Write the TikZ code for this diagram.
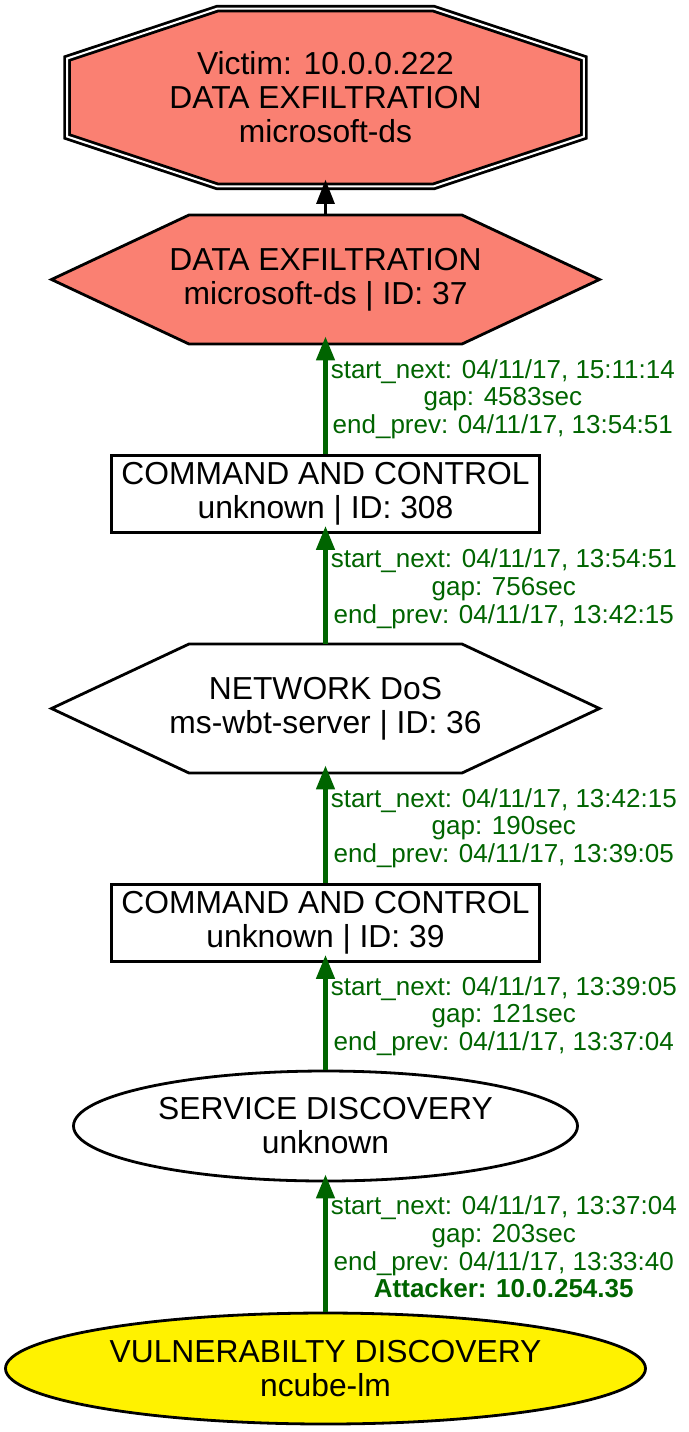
\documentclass[tikz,border=0pt]{standalone}
\usepackage{fontspec}
\setmainfont{Liberation Sans}
\usepackage{tikz}
\usetikzlibrary{shapes.geometric,arrows.meta,backgrounds}
\definecolor{salmon}{HTML}{FA8072}
\definecolor{dkgreen}{HTML}{006400}
\newcommand{\nodefont}{\fontsize{15.9pt}{17pt}\selectfont}
\newcommand{\edgefont}{\fontsize{13pt}{13.8pt}\selectfont}
\tikzstyle{target} = [rectangle, minimum width=258.4pt, minimum height=88.9pt, inner sep=0pt, align=center, font=\nodefont]
\tikzstyle{stage} = [rectangle, minimum width=274pt, minimum height=64.5pt, inner sep=0pt, align=center, font=\nodefont]
\tikzstyle{process} = [rectangle, draw, line width=1.4pt, minimum width=214pt, minimum height=38.5pt, inner sep=0pt, align=center, font=\nodefont]
\tikzstyle{oval} = [ellipse, draw, line width=1.4pt, inner sep=0pt, align=center, font=\nodefont]
\tikzstyle{outline} = [draw, line width=1.4pt, line join=miter]
\tikzstyle{connector} = [line width=1.4pt, -{Triangle[length=12pt,width=9pt]}, shorten >=-3.5pt]
\tikzstyle{flow} = [dkgreen, line width=2.3pt, -{Triangle[length=12pt,width=9pt]}, shorten >=-4pt]
\tikzstyle{timing} = [right, align=center, text=dkgreen, font=\edgefont, inner sep=1.5pt]

\begin{document}
\begin{tikzpicture}[node distance=107.25pt]
    \useasboundingbox (0,0) rectangle (344.5pt,-716pt);
    \node (victim) [target] at (162.75pt,-48.75pt) {Victim: 10.0.0.222\\DATA EXFILTRATION\\microsoft-ds};
    \node (exfil) [stage, below of = victim, yshift = 16.25pt] {DATA EXFILTRATION\\microsoft-ds | ID: 37};
    \node (cnctwo) [process, below of = exfil] {COMMAND AND CONTROL\\unknown | ID: 308};
    \node (dos) [stage, below of = cnctwo] {NETWORK DoS\\ms-wbt-server | ID: 36};
    \node (cncone) [process, below of = dos] {COMMAND AND CONTROL\\unknown | ID: 39};
    \node (svcdisc) [oval, minimum width=252pt, minimum height=55pt, below of = cncone, yshift = 5.75pt] {SERVICE DISCOVERY\\unknown};
    \node (vulndisc) [oval, fill=yellow, minimum width=320pt, minimum height=55.5pt, below of = svcdisc, yshift = -14pt] {VULNERABILTY DISCOVERY\\ncube-lm};
    % octagon and hexagons behind the text
    \begin{scope}[on background layer]
        \draw [outline, fill=salmon, double, double distance=1pt, line width=1.4pt, shift={(victim.center)}]
            (-54pt,44.45pt) -- (54pt,44.45pt) -- (129.2pt,19.5pt) -- (129.2pt,-19.5pt)
            -- (54pt,-44.45pt) -- (-54pt,-44.45pt) -- (-129.2pt,-19.5pt) -- (-129.2pt,19.5pt) -- cycle;
        \foreach \hex/\col in {exfil/salmon, dos/white}
            \draw [outline, fill=\col, shift={(\hex.center)}]
                (-68.25pt,32.25pt) -- (68.25pt,32.25pt) -- (137pt,0pt)
                -- (68.25pt,-32.25pt) -- (-68.25pt,-32.25pt) -- (-137pt,0pt) -- cycle;
    \end{scope}
    \draw [connector] (exfil) -- (victim);
    \draw [flow] (cnctwo) -- node[timing] {start\_next: 04/11/17, 15:11:14\\gap: 4583sec\\end\_prev: 04/11/17, 13:54:51} (exfil);
    \draw [flow] (dos) -- node[timing] {start\_next: 04/11/17, 13:54:51\\gap: 756sec\\end\_prev: 04/11/17, 13:42:15} (cnctwo);
    \draw [flow] (cncone) -- node[timing] {start\_next: 04/11/17, 13:42:15\\gap: 190sec\\end\_prev: 04/11/17, 13:39:05} (dos);
    \draw [flow] (svcdisc) -- node[timing] {start\_next: 04/11/17, 13:39:05\\gap: 121sec\\end\_prev: 04/11/17, 13:37:04} (cncone);
    \draw [flow] (vulndisc) -- node[timing] {start\_next: 04/11/17, 13:37:04\\gap: 203sec\\end\_prev: 04/11/17, 13:33:40\\\textbf{Attacker: 10.0.254.35}} (svcdisc);
\end{tikzpicture}
\end{document}
